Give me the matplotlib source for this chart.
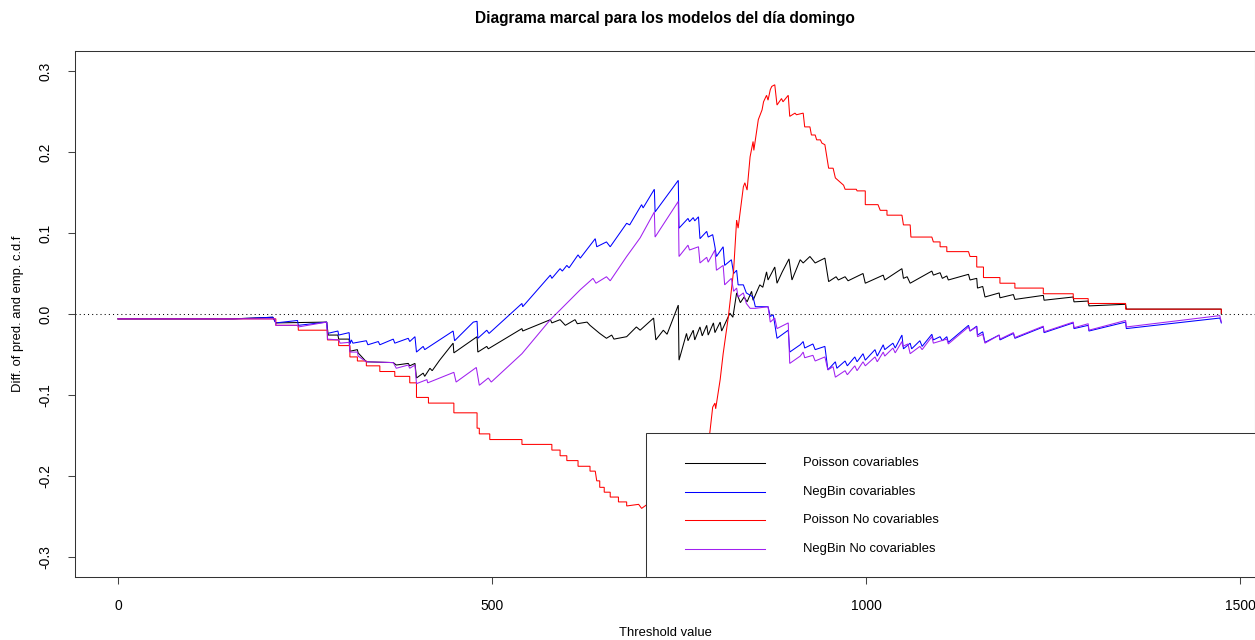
import matplotlib
matplotlib.use("Agg")
import matplotlib.pyplot as plt
from matplotlib.patches import Rectangle
from matplotlib.lines import Line2D

plt.rcParams['font.family'] = ['Liberation Sans', 'DejaVu Sans']

title = "Diagrama marcal para los modelos del día domingo"
x_label = "Threshold value"
y_label = "Diff. of pred. and emp. c.d.f"
series_labels = ["Poisson covariables", "NegBin covariables",
                 "Poisson No covariables", "NegBin No covariables"]
series_colors = ["black", "blue", "red", "#A020F0"]

x_ticks = [0, 500, 1000, 1500]
x_tick_labels = ["0", "500", "1000", "1500"]
y_ticks = [-0.3, -0.2, -0.1, 0.0, 0.1, 0.2, 0.3]
y_tick_labels = ["-0.3", "-0.2", "-0.1", "0.0", "0.1", "0.2", "0.3"]

# Poisson with covariables
pois_cov_x = [0, 154, 207, 211, 279, 281, 294, 295, 309, 310, 320, 321, 332, 368, 372,
              388, 390, 397, 399, 408, 410, 417, 420, 430, 448, 449, 480, 481, 493, 495,
              540, 541, 578, 580, 591, 598, 611, 614, 627, 631, 644, 653, 660, 663, 680,
              693, 698, 716, 719, 729, 734, 749, 750, 760, 762, 769, 771, 778, 781, 787,
              789, 796, 798, 805, 807, 814, 818, 822, 827, 832, 837, 841, 847, 849, 858,
              862, 867, 869, 878, 881, 888, 897, 901, 912, 916, 925, 932, 945, 950, 960,
              963, 972, 976, 996, 999, 1023, 1025, 1048, 1050, 1055, 1059, 1088, 1090,
              1099, 1102, 1108, 1110, 1137, 1139, 1148, 1149, 1156, 1159, 1178, 1179,
              1197, 1199, 1237, 1238, 1277, 1278, 1297, 1298, 1347, 1348, 1475, 1475]
pois_cov_y = [-0.006, -0.006, -0.004, -0.011, -0.010, -0.026, -0.026, -0.031, -0.031,
              -0.046, -0.044, -0.048, -0.059, -0.060, -0.063, -0.061, -0.064, -0.061,
              -0.079, -0.073, -0.077, -0.067, -0.070, -0.057, -0.036, -0.048, -0.028,
              -0.047, -0.040, -0.043, -0.018, -0.021, -0.007, -0.011, -0.007, -0.014,
              -0.007, -0.012, -0.010, -0.014, -0.024, -0.030, -0.026, -0.031, -0.028,
              -0.016, -0.020, -0.005, -0.032, -0.020, -0.025, 0.011, -0.057, -0.024,
              -0.033, -0.020, -0.032, -0.016, -0.027, -0.014, -0.026, -0.011, -0.023,
              -0.010, -0.021, -0.007, 0.001, -0.004, 0.026, 0.014, 0.021, 0.015, 0.028,
              0.017, 0.036, 0.033, 0.052, 0.042, 0.058, 0.038, 0.052, 0.068, 0.042,
              0.067, 0.063, 0.071, 0.063, 0.069, 0.040, 0.046, 0.042, 0.046, 0.041,
              0.050, 0.038, 0.048, 0.042, 0.056, 0.044, 0.046, 0.038, 0.053, 0.048,
              0.051, 0.044, 0.047, 0.042, 0.049, 0.042, 0.044, 0.032, 0.034, 0.021,
              0.026, 0.020, 0.024, 0.018, 0.023, 0.017, 0.021, 0.015, 0.016, 0.010,
              0.012, 0.006, 0.006, 0.000]

# NegBin with covariables
nb_cov_x = [0, 154, 183, 207, 211, 240, 241, 279, 280, 294, 295, 309, 310, 312, 314, 332,
            334, 348, 350, 368, 370, 388, 390, 397, 399, 408, 410, 448, 450, 475, 480,
            481, 493, 496, 540, 541, 578, 580, 591, 594, 600, 603, 615, 618, 638, 640,
            653, 658, 680, 684, 700, 702, 717, 718, 749, 750, 762, 764, 769, 771, 776,
            778, 787, 789, 795, 798, 800, 809, 811, 820, 823, 827, 829, 836, 840, 849,
            852, 869, 872, 876, 881, 896, 898, 912, 916, 918, 929, 932, 945, 949, 959,
            961, 972, 975, 985, 988, 996, 999, 1012, 1015, 1023, 1025, 1036, 1039, 1048,
            1050, 1059, 1061, 1072, 1075, 1088, 1090, 1099, 1102, 1108, 1110, 1137,
            1139, 1148, 1149, 1156, 1159, 1178, 1179, 1197, 1199, 1237, 1238, 1277,
            1278, 1297, 1298, 1347, 1348, 1473, 1475]
nb_cov_y = [-0.006, -0.006, -0.005, -0.004, -0.011, -0.008, -0.014, -0.010, -0.024,
            -0.021, -0.026, -0.023, -0.037, -0.032, -0.036, -0.033, -0.038, -0.034,
            -0.038, -0.031, -0.036, -0.030, -0.034, -0.028, -0.047, -0.040, -0.044,
            -0.021, -0.033, -0.010, -0.009, -0.030, -0.020, -0.024, 0.013, 0.009, 0.048,
            0.044, 0.056, 0.053, 0.060, 0.057, 0.073, 0.069, 0.093, 0.083, 0.089, 0.083,
            0.112, 0.110, 0.135, 0.131, 0.154, 0.126, 0.165, 0.106, 0.118, 0.114, 0.119,
            0.115, 0.120, 0.093, 0.102, 0.095, 0.098, 0.083, 0.071, 0.083, 0.060, 0.067,
            0.050, 0.054, 0.036, 0.036, 0.026, 0.021, 0.009, 0.009, -0.003, -0.001,
            -0.030, -0.020, -0.047, -0.038, -0.034, -0.042, -0.037, -0.044, -0.040,
            -0.069, -0.059, -0.067, -0.058, -0.064, -0.053, -0.059, -0.049, -0.057,
            -0.044, -0.052, -0.038, -0.044, -0.036, -0.042, -0.026, -0.043, -0.036,
            -0.043, -0.033, -0.040, -0.025, -0.032, -0.028, -0.033, -0.028, -0.035,
            -0.014, -0.021, -0.015, -0.026, -0.022, -0.035, -0.026, -0.032, -0.024,
            -0.030, -0.016, -0.023, -0.011, -0.018, -0.014, -0.021, -0.010, -0.018,
            -0.005, -0.011]

# Poisson without covariables
pois_nocov_x = [0, 211, 211, 241, 241, 280, 280, 295, 295, 310, 310, 320, 320, 332, 332,
                350, 350, 370, 370, 390, 390, 399, 399, 415, 415, 449, 449, 480, 480, 483,
                483, 497, 497, 540, 540, 580, 580, 591, 591, 600, 600, 615, 615, 631, 631,
                638, 640, 644, 644, 650, 650, 658, 658, 669, 669, 680, 680, 696, 700, 706,
                725, 751, 770, 778, 785, 791, 795, 798, 799, 805, 809, 816, 823, 827, 829,
                836, 838, 841, 845, 849, 850, 856, 861, 863, 867, 869, 872, 874, 878, 881,
                887, 889, 896, 898, 905, 907, 916, 918, 925, 927, 932, 934, 939, 941, 945,
                950, 956, 959, 970, 972, 987, 988, 999, 999, 1016, 1019, 1028, 1028, 1048,
                1050, 1059, 1060, 1088, 1090, 1099, 1099, 1108, 1108, 1137, 1139, 1148,
                1148, 1157, 1157, 1179, 1179, 1199, 1199, 1237, 1237, 1277, 1277, 1297,
                1297, 1347, 1347, 1475, 1475]
pois_nocov_y = [-0.006, -0.006, -0.014, -0.014, -0.020, -0.020, -0.032, -0.032, -0.039,
                -0.039, -0.053, -0.053, -0.058, -0.058, -0.064, -0.064, -0.071, -0.071,
                -0.077, -0.077, -0.085, -0.085, -0.103, -0.103, -0.110, -0.110, -0.122,
                -0.122, -0.141, -0.141, -0.148, -0.148, -0.155, -0.155, -0.161, -0.161,
                -0.168, -0.168, -0.175, -0.175, -0.181, -0.181, -0.188, -0.188, -0.194,
                -0.194, -0.206, -0.206, -0.214, -0.214, -0.220, -0.220, -0.226, -0.226,
                -0.232, -0.232, -0.237, -0.235, -0.240, -0.236, -0.243, -0.247, -0.249,
                -0.230, -0.193, -0.148, -0.115, -0.110, -0.117, -0.081, -0.049, -0.003,
                0.054, 0.116, 0.106, 0.157, 0.162, 0.153, 0.194, 0.213, 0.202, 0.240,
                0.252, 0.262, 0.270, 0.264, 0.277, 0.281, 0.283, 0.258, 0.266, 0.262,
                0.270, 0.244, 0.248, 0.246, 0.248, 0.231, 0.231, 0.221, 0.221, 0.215,
                0.215, 0.211, 0.209, 0.180, 0.180, 0.168, 0.159, 0.154, 0.154, 0.152,
                0.152, 0.135, 0.135, 0.128, 0.128, 0.122, 0.122, 0.110, 0.110, 0.095,
                0.095, 0.089, 0.089, 0.083, 0.083, 0.077, 0.077, 0.071, 0.071, 0.058,
                0.058, 0.045, 0.045, 0.038, 0.038, 0.032, 0.032, 0.025, 0.025, 0.019,
                0.019, 0.013, 0.013, 0.006, 0.006, 0.001]

# NegBin without covariables
nb_nocov_x = [0, 154, 210, 211, 240, 241, 279, 280, 295, 297, 309, 310, 320, 321, 332,
              368, 372, 388, 390, 397, 399, 413, 414, 449, 452, 479, 483, 495, 499, 540,
              578, 591, 618, 635, 639, 653, 658, 680, 698, 717, 718, 749, 750, 762, 764,
              776, 778, 787, 789, 798, 800, 809, 811, 820, 823, 827, 829, 836, 840, 845,
              852, 869, 872, 878, 881, 896, 898, 912, 916, 918, 929, 932, 945, 949, 956,
              959, 972, 975, 985, 988, 996, 999, 1012, 1015, 1023, 1025, 1036, 1039, 1048,
              1049, 1056, 1059, 1072, 1075, 1088, 1090, 1108, 1110, 1137, 1139, 1148,
              1149, 1156, 1159, 1178, 1179, 1197, 1199, 1237, 1238, 1277, 1278, 1297,
              1298, 1347, 1348, 1473, 1475]
nb_nocov_y = [-0.006, -0.006, -0.006, -0.014, -0.014, -0.016, -0.010, -0.031, -0.032,
              -0.036, -0.035, -0.047, -0.047, -0.052, -0.059, -0.060, -0.067, -0.063,
              -0.067, -0.063, -0.086, -0.081, -0.085, -0.072, -0.084, -0.066, -0.088,
              -0.079, -0.084, -0.049, -0.007, 0.005, 0.030, 0.044, 0.038, 0.046, 0.041,
              0.071, 0.094, 0.126, 0.095, 0.139, 0.071, 0.085, 0.079, 0.083, 0.063,
              0.070, 0.064, 0.079, 0.054, 0.060, 0.036, 0.044, 0.028, 0.032, 0.021,
              0.026, 0.013, 0.007, 0.007, 0.009, -0.010, -0.005, -0.018, -0.011, -0.061,
              -0.052, -0.047, -0.054, -0.051, -0.058, -0.053, -0.069, -0.065, -0.078,
              -0.070, -0.075, -0.064, -0.070, -0.059, -0.064, -0.053, -0.059, -0.047,
              -0.052, -0.042, -0.048, -0.034, -0.040, -0.037, -0.049, -0.040, -0.044,
              -0.028, -0.036, -0.031, -0.037, -0.016, -0.021, -0.016, -0.028, -0.025,
              -0.036, -0.026, -0.031, -0.023, -0.029, -0.015, -0.022, -0.010, -0.017,
              -0.012, -0.020, -0.008, -0.016, -0.002, -0.010]

series = [(pois_cov_x, pois_cov_y), (nb_cov_x, nb_cov_y),
          (pois_nocov_x, pois_nocov_y), (nb_nocov_x, nb_nocov_y)]

W, H = 1255, 640
fig = plt.figure(figsize=(W / 100, H / 100), dpi=100)
ax_left, ax_right, ax_top, ax_bottom = 75, 1255, 51, 577
ax = fig.add_axes([ax_left / W, 1 - ax_bottom / H,
                   (ax_right - ax_left) / W, (ax_bottom - ax_top) / H])

for (xs, ys), col in zip(series, series_colors):
    ax.plot(xs, ys, color=col, lw=0.75, solid_joinstyle='miter')

ax.axhline(0, color='black', lw=0.75, linestyle=(0, (1, 3)))

ax.set_xlim(-57.5, 1520)
ax.set_ylim(-0.3247, 0.3247)
ax.set_xticks(x_ticks)
ax.set_xticklabels(x_tick_labels)
ax.set_yticks(y_ticks)
ax.set_yticklabels(y_tick_labels, rotation=90, va='center')
ax.tick_params(axis='both', length=5, width=0.75, color='#444444',
               labelsize=10)
ax.tick_params(axis='x', pad=10.5)
ax.tick_params(axis='y', pad=11)
for sp in ax.spines.values():
    sp.set_linewidth(0.75)
    sp.set_color('#333333')

fs = 9.4
fig.text(665 / W, 1 - 18 / H, title, ha='center', va='center',
         fontsize=11.2, fontweight='bold')
fig.text(665 / W, 1 - 633 / H, x_label, ha='center', va='center', fontsize=fs)
fig.text(18 / W, 1 - 314 / H, y_label, ha='center', va='center',
         rotation=90, fontsize=fs)


def axfrac(px, py):
    return ((px - ax_left) / (ax_right - ax_left),
            (ax_bottom - py) / (ax_bottom - ax_top))


# legend box in the lower right corner
bx, by = axfrac(646, 433)
ax.add_patch(Rectangle((bx, 0), 1 - bx + 0.01, by, transform=ax.transAxes,
                       facecolor='white', edgecolor='#333333', lw=0.75,
                       zorder=5, clip_on=False))
for i, (lab, col) in enumerate(zip(series_labels, series_colors)):
    yy = axfrac(0, 463 + i * 28.7)[1]
    x0 = axfrac(685, 0)[0]
    x1 = axfrac(765, 0)[0]
    ax.add_line(Line2D([x0, x1], [yy, yy], transform=ax.transAxes,
                       color=col, lw=0.75, zorder=6))
    ax.text(axfrac(803, 0)[0], yy, lab, transform=ax.transAxes,
            ha='left', va='center', fontsize=fs, zorder=6)

fig.savefig("out.png", dpi=100)
